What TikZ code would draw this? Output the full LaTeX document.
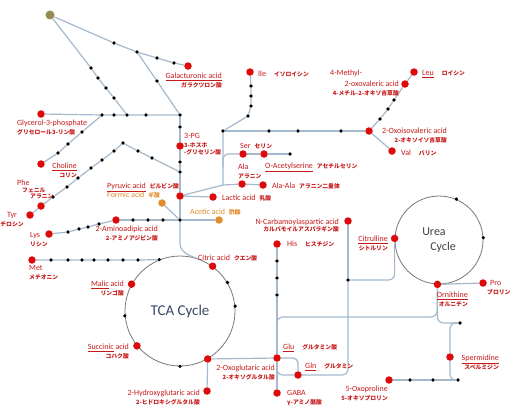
\documentclass[tikz,border=0pt]{standalone}
\usepackage{fontspec}
\setmainfont{Carlito}
\newfontfamily\jafont{Noto Sans CJK JP}
\usepackage{tikz}
\usetikzlibrary{positioning,calc}
\definecolor{mlred}{RGB}{220,10,10}
\definecolor{mltext}{RGB}{200,25,25}
\definecolor{mlorange}{RGB}{225,140,45}
\definecolor{mlolive}{RGB}{150,140,80}
\definecolor{mlline}{RGB}{165,185,205}
\definecolor{mlgray}{RGB}{120,120,120}
\definecolor{mlnavy}{RGB}{60,70,105}
\newcommand{\ja}[1]{{\jafont\bfseries\fontsize{5.8}{9}\selectfont #1}}
\tikzset{
  met/.style={circle,fill=mlred,inner sep=0pt,minimum size=7.5pt},
  blk/.style={circle,fill=black,inner sep=0pt,minimum size=3.6pt},
  acid/.style={circle,fill=mlorange,inner sep=0pt,minimum size=7.5pt},
  hub/.style={circle,fill=mlolive,inner sep=0pt,minimum size=9pt},
  lnk/.style={draw=mlline,line width=1.2pt},
  lbl/.style={font=\fontsize{8}{9}\selectfont,text=mltext,inner sep=0pt},
  cyc/.style={circle,draw=mlgray,line width=0.8pt,inner sep=0pt}
}
\begin{document}
\begin{tikzpicture}[x=1pt,y=-1pt]
  \path[use as bounding box,fill=white] (0,0) rectangle (513,405);

  %% Upper left arms
  \node[hub] (hub) at (50,15) {};
  \node[blk] (ga1) at (114,43) {};
  \node[blk] (ga2) at (137,52) {};
  \node[blk] (ga3) at (157,58) {};
  \node[blk] (ga4) at (174,63) {};
  \node[met] (gal) at (188,66) {};
  \node[blk] (gb1) at (157,81) {};
  \node[blk] (gc1) at (91,68) {};
  \node[blk] (gc2) at (98,78) {};
  \node[blk] (gc3) at (106,88) {};
  \node[blk] (gc4) at (114,98) {};
  \node[met] (g3p) at (41,114) {};
  \node[blk] (h1) at (102,115) {};
  \node[blk] (h2) at (114,115) {};
  \node[blk] (h3) at (127,115) {};
  \node[blk] (h4) at (146,115) {};
  \node[blk] (j1) at (180,115) {};
  \node[blk] (ch1) at (82,132) {};
  \node[blk] (ch2) at (68,144) {};
  \node[blk] (ch3) at (58,153) {};
  \node[met] (chol) at (41,164) {};

  %% Glycolysis column
  \node[blk] (v1) at (180,127) {};
  \node[met] (pg) at (180,146) {};
  \node[blk] (v2) at (180,162) {};
  \node[blk] (v3) at (180,172) {};
  \node[met] (pyr) at (180,196) {};
  \node[blk] (pa1) at (152,158) {};
  \node[blk] (pa2) at (138,151) {};
  \node[blk] (pk) at (123,143) {};
  \node[blk] (pb1) at (114,151) {};
  \node[blk] (pb2) at (102,160) {};
  \node[blk] (pb3) at (91,168) {};
  \node[blk] (pb4) at (78,178) {};
  \node[blk] (pb5) at (67,187) {};
  \node[blk] (pb6) at (53,197) {};
  \node[met] (phe) at (41,206) {};
  \node[met] (tyr) at (30,215) {};

  %% Amino acid branch
  \coordinate (k1) at (223,185);
  \coordinate (ks) at (223,167);
  \node[blk] (j3) at (223,131) {};
  \node[met] (ser) at (243,154) {};
  \node[met] (oas) at (264,154) {};
  \node[blk] (sd1) at (290,154) {};
  \node[met] (ala) at (242,184) {};
  \node[met] (alaa) at (263,185) {};
  \node[met] (lac) at (213,197) {};
  \node[blk] (i1) at (248,116) {};
  \node[blk] (i2) at (251,106) {};
  \node[blk] (i3) at (251,96) {};
  \node[blk] (i4) at (251,86) {};
  \node[met] (ile) at (250,72) {};
  \node[blk] (x1) at (269,131) {};
  \node[blk] (x2) at (298,131) {};
  \node[blk] (x3) at (341,131) {};
  \node[met] (oiv) at (369,131) {};
  \node[blk] (m1) at (380,119) {};
  \node[blk] (m2) at (388,109) {};
  \node[blk] (m3) at (394,100) {};
  \node[met] (mov) at (405,84) {};
  \node[met] (leu) at (414,72) {};
  \node[met] (val) at (392,151) {};

  %% Acids and lysine
  \node[acid] (fa) at (162,203) {};
  \node[blk] (j2) at (180,220) {};
  \coordinate (jc) at (180,243);
  \node[met] (aad) at (116,220) {};
  \node[blk] (a1) at (133,220) {};
  \node[blk] (a2) at (148,220) {};
  \node[blk] (a3) at (163,220) {};
  \node[acid] (ace) at (219,220) {};
  \node[met] (lys) at (49,234) {};
  \node[blk] (l1) at (68,232) {};
  \node[blk] (l2) at (79,229) {};
  \node[blk] (l3) at (88,227) {};
  \node[blk] (l4) at (99,224) {};

  %% TCA cycle
  \node[cyc,minimum size=110pt,font=\fontsize{15}{18}\selectfont,text=mlnavy]
        (tca) at (180,311) {TCA Cycle};
  \node[met] (cit) at (tca.54) {};
  \node[blk] (tc1) at (tca.31) {};
  \node[blk] (tc2) at (tca.5) {};
  \node[met] (og) at (tca.-60) {};
  \node[blk] (tc3) at (tca.-90) {};
  \node[met] (suc) at (tca.219) {};
  \node[blk] (tc4) at (tca.185) {};
  \node[met] (mal) at (tca.151) {};
  \node[blk] (mt) at (tca.112) {};
  \node[met] (met) at (32,260) {};
  \node[blk] (mt1) at (51,260) {};
  \node[blk] (mt2) at (68,260) {};
  \node[blk] (mt3) at (82,260) {};
  \node[blk] (mt4) at (94,260) {};
  \node[blk] (mt5) at (108,260) {};
  \node[blk] (mt6) at (123,260) {};
  \node[blk] (mt7) at (138,260) {};
  \node[met] (hg) at (207,391) {};

  %% Glutamate and urea cycle
  \node[met] (his) at (277,244) {};
  \node[blk] (hd1) at (277,261) {};
  \node[blk] (hd2) at (277,278) {};
  \node[blk] (hd3) at (277,295) {};
  \node[met] (glu) at (277,358) {};
  \node[met] (gln) at (298,375) {};
  \node[met] (gaba) at (277,393) {};
  \coordinate (gj) at (277,330);
  \coordinate (oc) at (437,317);
  \node[met] (nca) at (348,221) {};
  \node[blk] (cd1) at (348,280) {};
  \node[cyc,minimum size=88pt,font=\fontsize{12}{15}\selectfont,text=black!75,align=left]
        (urea) at (439,240) {Urea\\\hspace*{8pt}Cycle};
  \node[met] (citr) at (urea.178) {};
  \node[met] (orn) at (urea.-92) {};
  \node[blk] (uc1) at (urea.3) {};
  \node[blk] (uc2) at (urea.67) {};
  \node[met] (pro) at (483,283) {};
  \node[blk] (sd) at (460,323) {};
  \node[met] (spd) at (450,357) {};
  \node[met] (op) at (389,380) {};
  \node[blk] (op1) at (410,380) {};
  \node[blk] (op2) at (433,380) {};
  \node[blk] (op3) at (458,380) {};

  %% Connectors
  \draw[lnk] (hub) -- (ga1) -- (ga2) -- (ga3) -- (ga4) -- (gal);
  \draw[lnk] (ga2) -- (gb1) -- (j1);
  \draw[lnk] (hub) -- (gc1) -- (gc2) -- (gc3) -- (gc4) -- (h3);
  \draw[lnk] (g3p) -- (h1) -- (h2) -- (h3) -- (h4) -- (j1);
  \draw[lnk] (h1) -- (ch1) -- (ch2) -- (ch3) -- (chol);
  \draw[lnk] (j1) -- (v1) -- (pg) -- (v2) -- (v3) -- (pyr) -- (j2);
  \draw[lnk] (v3) -- (pa1) -- (pa2) -- (pk) -- (pb1) -- (pb2) -- (pb3)
        -- (pb4) -- (pb5) -- (pb6) -- (phe) -- (tyr);
  \draw[lnk] (pyr) -- (lac);
  \draw[lnk] (pyr) -- (k1) -- (j3);
  \draw[lnk] (k1) -- (ala) -- (alaa);
  \draw[lnk,rounded corners=5pt] (ks) |- (ser);
  \draw[lnk] (ser) -- (oas) -- (sd1);
  \draw[lnk] (j3) -- (i1) -- (i2) -- (i3) -- (i4) -- (ile);
  \draw[lnk] (j3) -- (x1) -- (x2) -- (x3) -- (oiv);
  \draw[lnk] (oiv) -- (m1) -- (m2) -- (m3) -- (mov) -- (leu);
  \draw[lnk] (oiv) -- (val);
  \draw[lnk] (fa) -- (j2);
  \draw[lnk] (aad) -- (a1) -- (a2) -- (a3) -- (j2) -- (ace);
  \draw[lnk] (lys) -- (l1) -- (l2) -- (l3) -- (l4) -- (aad);
  \draw[lnk] (met) -- (mt1) -- (mt2) -- (mt3) -- (mt4) -- (mt5) -- (mt6) -- (mt7) -- (mt);
  \draw[lnk] (j2) -- (jc) to[out=-90,in=162] (tca.72);
  \draw[lnk] (og) -- (glu);
  \draw[lnk] (og) -- (hg);
  \draw[lnk] (his) -- (hd1) -- (hd2) -- (hd3) -- (glu) -- (gaba);
  \draw[lnk,rounded corners=5pt] (glu) -| (gln);
  \draw[lnk,rounded corners=6pt] (gj) |- (oc) -- (orn);
  \draw[lnk,rounded corners=6pt] (orn) |- (sd);
  \draw[lnk,rounded corners=5pt] (sd) -| (spd);
  \draw[lnk,rounded corners=5pt] (spd) |- (op3);
  \draw[lnk] (op) -- (op1) -- (op2) -- (op3);
  \draw[lnk] (orn) -- (pro);
  \draw[lnk,rounded corners=6pt] (citr) |- (cd1);
  \draw[lnk] (nca) -- (cd1);
  \draw[lnk,rounded corners=6pt] (cd1) |- (gln);
  \draw[lnk,rounded corners=6pt] (gln) -| (glu);

  %% Labels
  \node[lbl,align=right,anchor=north east] (lgal) at (222,72.5) {\underline{Galacturonic acid}\\\ja{ガラクツロン酸}};
  \node[lbl,anchor=west] (lile) at (258,74) {Ile\quad\ja{イソロイシン}};
  \node[lbl,anchor=west] (lmv1) at (330,73) {4-Methyl-};
  \node[lbl,align=right,anchor=north east] (lmv2) at (399,80.5) {2-oxovaleric acid\\\ja{4-メチル-2-オキソ吉草酸}};
  \node[lbl,anchor=west] (lleu) at (422,74) {\underline{Leu}\quad\ja{ロイシン}};
  \node[lbl,align=right,anchor=north east] (loiv) at (447,127.5) {2-Oxoisovaleric acid\\\ja{2-オキソイソ吉草酸}};
  \node[lbl,anchor=west] (lval) at (401,153) {Val\quad\ja{バリン}};
  \node[lbl,anchor=west] (lser) at (240,146) {Ser\enspace\ja{セリン}};
  \node[lbl,anchor=west] (loas) at (265,167) {\underline{O-Acetylserine}\enspace\ja{アセチルセリン}};
  \node[lbl,align=left,anchor=north west] (lala) at (238,163.5) {Ala\\\ja{アラニン}};
  \node[lbl,anchor=west] (lalaa) at (272,186) {Ala-Ala\enspace\ja{アラニン二量体}};
  \node[lbl,anchor=west] (llac) at (222,198) {Lactic acid\enspace\ja{乳酸}};
  \node[lbl,anchor=west] (lpyr) at (107,187) {\underline{Pyruvic acid}\enspace\ja{ピルビン酸}};
  \node[lbl,text=mlorange,anchor=west] (lfa) at (107,195) {Formic acid\enspace\ja{ギ酸}};
  \node[lbl,text=mlorange,anchor=west] (lace) at (190,212) {Acetic acid\enspace\ja{酢酸}};
  \node[lbl,align=right,anchor=north east] (lnca) at (339,218.5) {N-Carbamoylaspartic acid\\[-2pt]\ja{カルバモイルアスパラギン酸}};
  \node[lbl,anchor=west] (lhis) at (287,244) {His\quad\ja{ヒスチジン}};
  \node[lbl,align=right,anchor=north east] (lcitr) at (388,235.5) {\underline{Citrulline}\\\ja{シトルリン}};
  \node[lbl,align=left,anchor=north west] (lpro) at (487,280.5) {\hspace*{3pt}Pro\\\ja{プロリン}};
  \node[lbl,align=right,anchor=north east] (lorn) at (468,291.5) {\underline{Ornithine}\\\ja{オルニチン}};
  \node[lbl,align=right,anchor=north east] (lspd) at (499,354.5) {\underline{Spermidine}\\\ja{スペルミジン}};
  \node[lbl,align=right,anchor=north east] (lop) at (388,386) {5-Oxoproline\\\ja{5-オキソプロリン}};
  \node[lbl,anchor=west] (lglu) at (283,348) {\underline{Glu}\quad\ja{グルタミン酸}};
  \node[lbl,anchor=west] (lgln) at (305,367) {\underline{Gln}\quad\ja{グルタミン}};
  \node[lbl,align=right,anchor=north east] (log) at (275,364.5) {2-Oxoglutaric acid\\\ja{2-オキソグルタル酸}};
  \node[lbl,align=left,anchor=north west] (lgaba) at (287,390.5) {GABA\\\ja{γ-アミノ酪酸}};
  \node[lbl,align=right,anchor=north east] (lhg) at (200,389.5) {2-Hydroxyglutaric acid\\\ja{2-ヒドロキシグルタル酸}};
  \node[lbl,align=right,anchor=north east] (lsuc) at (129,343.5) {\underline{Succinic} acid\\\ja{コハク酸}};
  \node[lbl,align=right,anchor=north east] (lmal) at (124,280.5) {\underline{Malic} acid\\\ja{リンゴ酸}};
  \node[lbl,anchor=west] (lcit) at (198,258) {Citric acid\enspace\ja{クエン酸}};
  \node[lbl,align=left,anchor=north west] (lmet) at (29,265.5) {Met\\\ja{メチオニン}};
  \node[lbl,align=left,anchor=north west] (llys) at (30,232.5) {Lys\\\ja{リシン}};
  \node[lbl,align=right,anchor=north east] (laad) at (158,225.5) {2-Aminoadipic acid\\\ja{2-アミノアジピン酸}};
  \node[lbl,align=center,anchor=north] (ltyr) at (12,212.5) {Tyr\\\ja{チロシン}};
  \node[lbl,align=left,anchor=north west] (lphe) at (17,179.5) {Phe\\[-2pt]\hspace*{5pt}\ja{フェニル}\\[-3pt]\hspace*{13pt}\ja{アラニン}};
  \node[lbl,align=right,anchor=north east] (lchol) at (77,162.5) {\underline{Choline}\\\ja{コリン}};
  \node[lbl,align=left,anchor=north west] (lg3p) at (17,119.5) {Glycerol-3-phosphate\\\ja{グリセロール3-リン酸}};
  \node[lbl,align=left,anchor=north west] (lpg) at (184,133.5) {3-PG\\\ja{3-ホスホ}\\[-2pt]\ja{-グリセリン酸}};
\end{tikzpicture}
\end{document}
